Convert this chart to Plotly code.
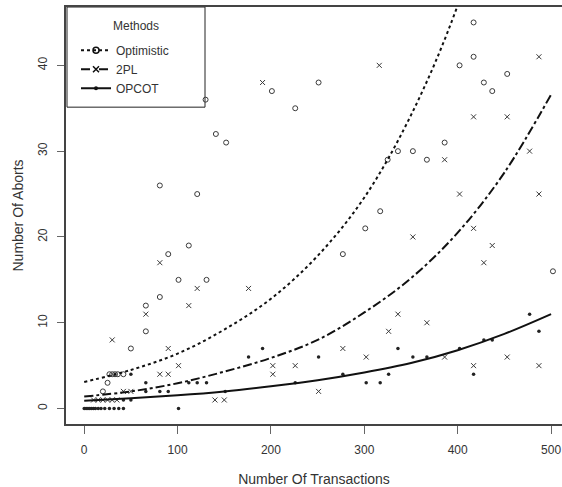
import plotly.graph_objects as go

# ---- data ----
opt_x = [20, 25, 27, 30, 33, 36, 42, 50, 66, 66, 81, 90, 81, 101, 112, 121, 131, 130, 141, 152,
         201, 226, 251, 277, 301, 317, 325, 336, 352, 367, 386, 402, 417, 417, 428, 437, 453, 502]
opt_y = [2, 3, 4, 4, 4, 4, 4, 7, 9, 12, 13, 18, 26, 15, 19, 25, 15, 36, 32, 31,
         37, 35, 38, 18, 21, 23, 29, 30, 30, 29, 31, 40, 41, 45, 38, 37, 39, 16]

tpl_x = [10, 15, 20, 25, 30, 35, 42, 50, 30, 66, 81, 81, 90, 90, 101, 112, 121, 140, 150, 176,
         191, 202, 202, 226, 251, 277, 302, 316, 326, 336, 352, 367, 386, 386, 402, 417, 417, 417,
         428, 437, 453, 453, 477, 487, 487, 487]
tpl_y = [1, 1, 1, 1, 1, 1, 2, 2, 8, 11, 17, 4, 4, 7, 5, 12, 14, 1, 1, 14,
         38, 5, 4, 5, 2, 7, 6, 40, 9, 11, 20, 10, 29, 6, 25, 21, 5, 34,
         17, 19, 34, 6, 30, 25, 41, 5]

opc_x = [0, 2, 4, 6, 8, 10, 12, 15, 18, 22, 27, 32, 37, 42, 101, 42, 50, 50, 66, 66, 81, 90,
         112, 121, 131, 151, 176, 191, 226, 251, 277, 302, 317, 326, 336, 352, 367, 402, 417,
         428, 437, 477, 487]
opc_y = [0, 0, 0, 0, 0, 0, 0, 0, 0, 0, 0, 0, 0, 0, 0, 1, 1, 4, 2, 3, 2, 2,
         3, 3, 3, 2, 6, 7, 3, 6, 4, 3, 3, 4, 7, 6, 6, 7, 4,
         8, 8, 11, 9]

# fitted curves
fit_x = [0, 50, 100, 150, 200, 250, 300, 350, 400, 450, 500]
opt_fit = [3.1, 4.5, 6.4, 9.2, 12.8, 17.8, 24.6, 34.2, 47.0, 65.0, 90.0]
tpl_fit = [1.4, 2.0, 2.95, 4.3, 5.9, 8.0, 11.2, 15.2, 20.5, 27.5, 36.6]
opc_fit = [0.9, 1.2, 1.55, 2.0, 2.6, 3.3, 4.2, 5.3, 6.8, 8.7, 11.0]

x_ticks = [0, 100, 200, 300, 400, 500]
y_ticks = [0, 10, 20, 30, 40]
method_names = ["Optimistic", "2PL", "OPCOT"]

FONT = "Liberation Sans, Arial, sans-serif"
MK = "#3a3a3a"

fig = go.Figure()

# scatter points
fig.add_trace(go.Scatter(x=opt_x, y=opt_y, mode="markers", showlegend=False,
                         marker=dict(symbol="circle-open", size=5, color=MK, line=dict(width=1))))
fig.add_trace(go.Scatter(x=tpl_x, y=tpl_y, mode="markers", showlegend=False,
                         marker=dict(symbol="x-thin-open", size=5, color=MK, line=dict(width=1))))
fig.add_trace(go.Scatter(x=opc_x, y=opc_y, mode="markers", showlegend=False,
                         marker=dict(symbol="circle", size=3.5, color="#222")))

# fitted curves
fig.add_trace(go.Scatter(x=fit_x, y=opt_fit, mode="lines", showlegend=False, line_shape="spline",
                         line=dict(color="#111", width=2, dash="dot")))
fig.add_trace(go.Scatter(x=fit_x, y=tpl_fit, mode="lines", showlegend=False, line_shape="spline",
                         line=dict(color="#111", width=2, dash="dashdot")))
fig.add_trace(go.Scatter(x=fit_x, y=opc_fit, mode="lines", showlegend=False, line_shape="spline",
                         line=dict(color="#111", width=2)))

# legend entries
leg_styles = [
    (dict(dash="dot"), dict(symbol="circle-open", size=6, line=dict(width=1.5))),
    (dict(dash="dash"), dict(symbol="x-thin-open", size=6, line=dict(width=1.5))),
    (dict(), dict(symbol="circle", size=4)),
]
for name, (ls, ms) in zip(method_names, leg_styles):
    fig.add_trace(go.Scatter(x=[None], y=[None], mode="lines+markers", name=name,
                             line=dict(color="#111", width=2, **ls),
                             marker=dict(color="#111", **ms)))

PH = 420.5  # plot height in px
PW = 496.0  # plot width in px

fig.update_layout(
    width=562, height=487,
    margin=dict(l=66, r=0, t=7, b=60),
    paper_bgcolor="white", plot_bgcolor="white",
    font=dict(family=FONT, size=12, color="#333"),
    showlegend=True,
    legend=dict(x=10 / PW, y=1 - 29 / PH, xanchor="left", yanchor="top",
                bgcolor="rgba(0,0,0,0)", borderwidth=0,
                font=dict(size=12, color="#333"),
                itemwidth=30),
    shapes=[dict(type="rect", xref="paper", yref="paper",
                 x0=1 / PW, x1=139 / PW, y0=1 - 101 / PH, y1=1,
                 line=dict(color="#222", width=1), fillcolor="white", layer="below")],
    annotations=[dict(text="Methods", xref="paper", yref="paper",
                      x=70 / PW, y=1 - 19 / PH, xanchor="center", yanchor="middle",
                      showarrow=False, font=dict(size=12, color="#333"))],
    xaxis=dict(range=[-19.5, 511.7], tickvals=x_ticks, showgrid=False, zeroline=False,
               showline=True, linecolor="#444", linewidth=1.5, mirror=True,
               ticks="outside", ticklen=8, tickcolor="#666", ticklabelstandoff=6,
               title=dict(text="Number Of Transactions", standoff=20)),
    yaxis=dict(range=[-1.8, 46.8], tickvals=y_ticks, showgrid=False, zeroline=False,
               showline=True, linecolor="#444", linewidth=1.5,
               ticks="outside", ticklen=7, tickcolor="#666", tickangle=-90, ticklabelstandoff=5,
               title=dict(text="Number Of Aborts", standoff=10)),
)

fig.write_html("out.html")
